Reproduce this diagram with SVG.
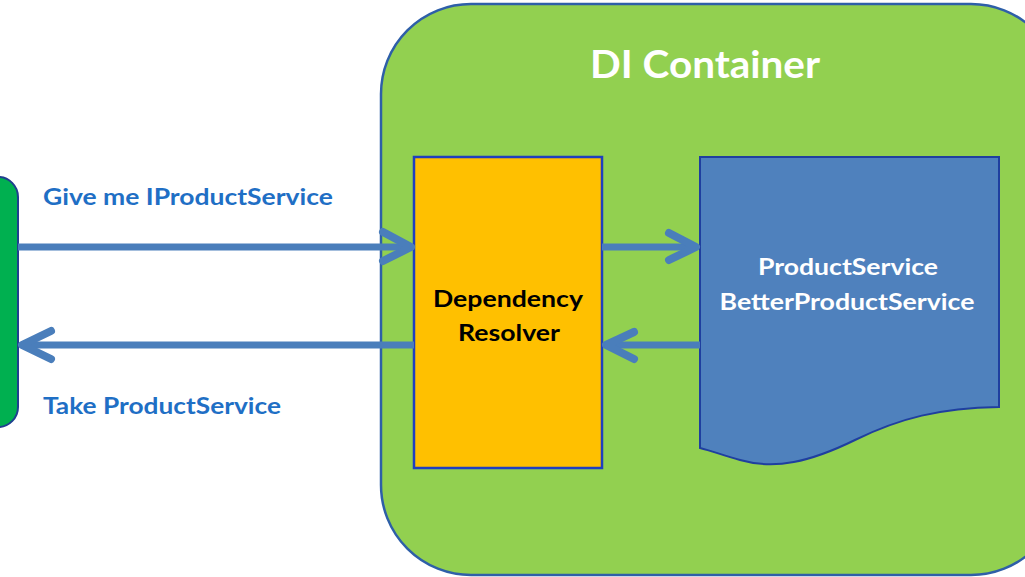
<svg xmlns="http://www.w3.org/2000/svg" width="1025" height="577" viewBox="0 0 1025 577">
<style>
.lbl{font-family:Lato,"Open Sans","Liberation Sans",sans-serif;font-weight:bold;}
.arrow{fill:none;stroke:#4a7ebb;stroke-width:7;}
.head{fill:none;stroke:#4a7ebb;stroke-width:8;stroke-linecap:round;stroke-linejoin:round;}
</style>
<rect width="1025" height="577" fill="#ffffff"/>
<g id="client">
<rect x="-40" y="177" width="58" height="250" rx="20" fill="#00b050" stroke="#1f3f8f" stroke-width="2"/>
</g>
<g id="container">
<rect x="381" y="4" width="680" height="571" rx="90" fill="#92d050" stroke="#2e5fa8" stroke-width="2.5"/>
<text class="lbl" x="705" y="78" font-size="38" fill="#ffffff" text-anchor="middle" textLength="230" lengthAdjust="spacingAndGlyphs">DI Container</text>
</g>
<g id="resolver">
<rect x="414" y="157" width="188" height="311" fill="#ffc000" stroke="#1f3fbf" stroke-width="2.5"/>
<text class="lbl" x="508" y="307" font-size="22" fill="#000000" text-anchor="middle" textLength="150" lengthAdjust="spacingAndGlyphs">Dependency</text>
<text class="lbl" x="509" y="341" font-size="22" fill="#000000" text-anchor="middle" textLength="102" lengthAdjust="spacingAndGlyphs">Resolver</text>
</g>
<g id="services">
<path d="M700,157 H999 V407 C940,408 900,418 855,440 C810,462 775,470 740,460 C722,455 712,451 700,448 Z" fill="#4f81bd" stroke="#1f3f9f" stroke-width="2"/>
<text class="lbl" x="848" y="275" font-size="22" fill="#ffffff" text-anchor="middle" textLength="180" lengthAdjust="spacingAndGlyphs">ProductService</text>
<text class="lbl" x="847" y="310" font-size="22" fill="#ffffff" text-anchor="middle" textLength="255" lengthAdjust="spacingAndGlyphs">BetterProductService</text>
</g>
<g id="connectors">
<line class="arrow" x1="18" y1="247" x2="410" y2="247"/>
<polyline class="head" points="383,232 411,247 383,261"/>
<line class="arrow" x1="414" y1="345" x2="24" y2="345"/>
<polyline class="head" points="51,331 22,345 51,359"/>
<line class="arrow" x1="602" y1="247" x2="695" y2="247"/>
<polyline class="head" points="669,233 696,247 669,260"/>
<line class="arrow" x1="700" y1="345" x2="608" y2="345"/>
<polyline class="head" points="634,332 606,345 634,359"/>
<text class="lbl" x="43" y="205" font-size="22" fill="#1f6fc5" textLength="290" lengthAdjust="spacingAndGlyphs">Give me IProductService</text>
<text class="lbl" x="43" y="414" font-size="22" fill="#1f6fc5" textLength="238" lengthAdjust="spacingAndGlyphs">Take ProductService</text>
</g>
</svg>
